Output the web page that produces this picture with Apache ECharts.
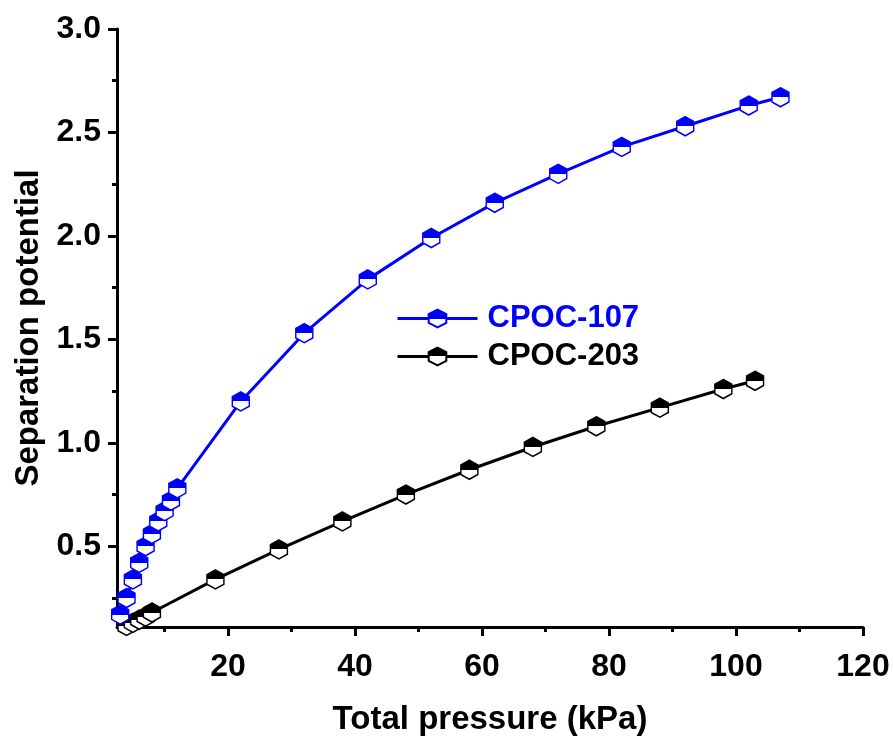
<!DOCTYPE html>
<html>
<head>
<meta charset="utf-8">
<script src="https://cdn.jsdelivr.net/npm/echarts@6/dist/echarts.min.js"></script>
<style>
  html, body { margin: 0; padding: 0; background: #fff; }
  #chart { width: 893px; height: 738px; }
</style>
</head>
<body>
<div id="chart"></div>
<script>
// values
const cpoc107Pressure = [3, 4, 5, 6, 7, 8, 9, 10, 11, 12, 22, 32, 42, 52, 62, 72, 82, 92, 102, 107];
const cpoc107Potential = [0.17, 0.25, 0.34, 0.42, 0.50, 0.56, 0.62, 0.67, 0.72, 0.78, 1.20, 1.53, 1.79, 1.99, 2.16, 2.30, 2.43, 2.53, 2.63, 2.67];
const cpoc203Pressure = [3, 4, 5, 6, 7, 8, 18, 28, 38, 48, 58, 68, 78, 88, 98, 103];
const cpoc203Potential = [0.10, 0.115, 0.13, 0.145, 0.16, 0.18, 0.34, 0.485, 0.62, 0.75, 0.87, 0.98, 1.08, 1.17, 1.26, 1.30];

const xMajorTicks = [20, 40, 60, 80, 100, 120];
const xMinorTicks = [10, 30, 50, 70, 90, 110];
const yMajorTicks = [0.5, 1.0, 1.5, 2.0, 2.5, 3.0];
const yMinorTicks = [0.25, 0.75, 1.25, 1.75, 2.25, 2.75];

const FONT = 'Liberation Sans';
const hexagon = 'path://M0,-10 L8.66,-5 L8.66,5 L0,10 L-8.66,5 L-8.66,-5 Z';

function halfFill(color) {
  return {
    type: 'linear', x: 0, y: 0, x2: 0, y2: 1,
    colorStops: [
      { offset: 0, color: color },
      { offset: 0.5, color: color },
      { offset: 0.5, color: '#fff' },
      { offset: 1, color: '#fff' }
    ]
  };
}

function pairs(xs, ys) {
  return xs.map((x, i) => [x, ys[i]]);
}

const labelStyle = { fontFamily: FONT, fontWeight: 'bold', fontSize: 32, color: '#000' };
const nameStyle = { fontFamily: FONT, fontWeight: 'bold', fontSize: 33, color: '#000' };

const chart = echarts.init(document.getElementById('chart'));

const options = {
  animation: false,
  grid: { left: 117, top: 29, right: 30, bottom: 111, containLabel: false, outerBoundsMode: 'none' },
  legend: {
    orient: 'vertical',
    left: 391,
    top: 298,
    itemWidth: 80,
    itemHeight: 22,
    itemGap: 7,
    lineStyle: { width: 3 },
    textStyle: { fontFamily: FONT, fontWeight: 'bold', fontSize: 31, padding: [0, 0, 0, 5] },
    data: [
      { name: 'CPOC-107', textStyle: { color: '#0000ff' } },
      { name: 'CPOC-203', textStyle: { color: '#000' } }
    ]
  },
  xAxis: [
    {
      type: 'value', min: 2.5, max: 120, position: 'bottom',
      name: 'Total pressure (kPa)', nameLocation: 'middle', nameGap: 76,
      nameTextStyle: nameStyle,
      axisLine: { lineStyle: { color: '#000', width: 3 } },
      axisTick: { length: 9, lineStyle: { color: '#000', width: 3 }, customValues: xMajorTicks },
      axisLabel: Object.assign({ margin: 24, customValues: xMajorTicks }, labelStyle),
      splitLine: { show: false }
    },
    {
      type: 'value', min: 2.5, max: 120, position: 'bottom',
      axisLine: { show: false },
      axisTick: { length: 5, lineStyle: { color: '#000', width: 3 }, customValues: xMinorTicks },
      axisLabel: { show: false },
      splitLine: { show: false }
    }
  ],
  yAxis: [
    {
      type: 'value', min: 0.11, max: 3.0, position: 'left',
      name: 'Separation potential', nameLocation: 'middle', nameGap: 70,
      nameTextStyle: nameStyle,
      axisLine: { show: true, lineStyle: { color: '#000', width: 3 } },
      axisTick: { show: true, length: 9, lineStyle: { color: '#000', width: 3 }, customValues: yMajorTicks },
      axisLabel: Object.assign({
        margin: 16, customValues: yMajorTicks,
        formatter: (v) => v.toFixed(1)
      }, labelStyle),
      splitLine: { show: false }
    },
    {
      type: 'value', min: 0.11, max: 3.0, position: 'left',
      axisLine: { show: false },
      axisTick: { show: true, length: 5, lineStyle: { color: '#000', width: 3 }, customValues: yMinorTicks },
      axisLabel: { show: false },
      splitLine: { show: false }
    }
  ],
  series: [
    {
      name: 'CPOC-107',
      type: 'line',
      data: pairs(cpoc107Pressure, cpoc107Potential),
      symbol: hexagon,
      symbolSize: [17, 19],
      lineStyle: { color: '#0000ff', width: 3 },
      itemStyle: { color: halfFill('#0000ff'), borderColor: '#0000ff', borderWidth: 1.5 },
      z: 3
    },
    {
      name: 'CPOC-203',
      type: 'line',
      data: pairs(cpoc203Pressure, cpoc203Potential),
      symbol: hexagon,
      symbolSize: [17, 19],
      lineStyle: { color: '#000', width: 3 },
      itemStyle: { color: halfFill('#000'), borderColor: '#000', borderWidth: 1.5 },
      z: 2
    }
  ]
};

chart.setOption(options);
</script>
</body>
</html>
